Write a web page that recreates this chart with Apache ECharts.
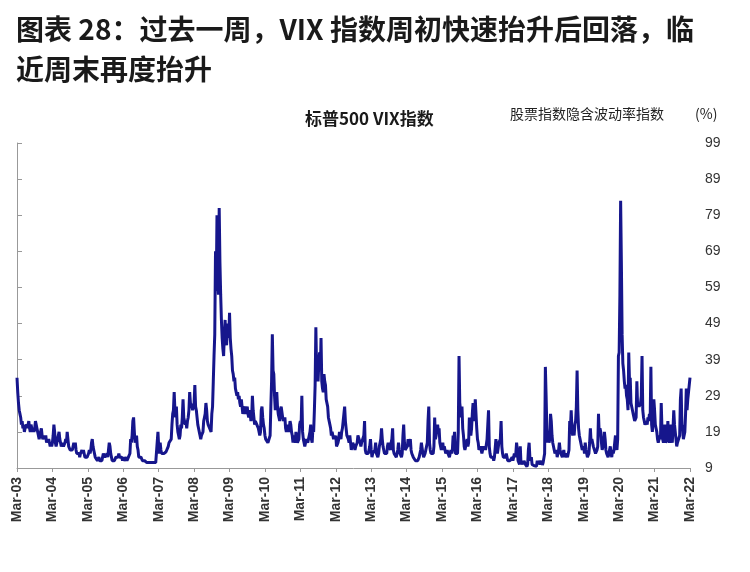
<!DOCTYPE html>
<html>
<head>
<meta charset="utf-8">
<script src="https://cdn.jsdelivr.net/npm/echarts@6/dist/echarts.min.js"></script>
<style>
html,body{margin:0;padding:0;background:#fff;}
#chart{width:750px;height:572px;}
</style>
</head>
<body>
<div id="chart"></div>
<script>
// Weekly-ish readings (4 per month), starting Mar 2003
const vix2003 = [34,30,27,25, 24,23,21,22, 20,21,19,20, 20,21,20,21, 22,20,19,21, 21,19,20,19, 20,22,21,20, 19,18,17,18, 19,20,18,17, 17,18,17,18];
const vix2004 = [16,17,16,17, 16,15,16,15, 16,18,21,19, 16,15,16,17, 18,19,17,16, 15,15,16,15, 15,16,17,16, 19,17,15,15, 14,14,14,14, 15,16,15,16, 14,13,13,13, 13,12,13,13];
const vix2005 = [14,13,14,13, 12,12,12,12, 12,13,14,13, 14,16,17,15, 14,13,12,12, 12,11,11,12, 11,11,10.5,11, 12,13,13,12, 12,12,13,12, 14,16,15,13, 12,11,11,11, 11,11,12,12];
const vix2006 = [12,12,13,12, 12,12,12,11, 12,11,11,11, 12,11,11,12, 12,13,17,16, 18,22,23,19, 16,17,18,15, 14,12,12,12, 12,12,11,11, 11,11,11,10.5, 10.5,10,10.5,10.5, 11,10,10.5,11];
const vix2007 = [11,10.5,11,11, 10.5,10.5,10,19, 15,13,16,14, 13,13,12.5,13, 13,13,13.5,13.5, 13,15,16,16, 16,17,21,24, 25,30,25,23, 26,21,19,18, 17,18,21,20, 23,28,23,22, 21,22,20,22];
const vix2008 = [23,25,30,27, 27,26,25,25, 27,32,26,25, 23,21,20,19, 18,17,18,18, 19,22,23,24, 27,25,22,21, 21,20,20,19, 24,26,33,40, 46,69,58,79, 62,57,81,66, 57,50,45,42];
const vix2009 = [40,46,50,44, 43,47,49,45, 52,45,42,40, 36,35,33,34, 31,30,29,30, 28,29,27,26, 28,26,24,25, 25,26,24,25, 26,24,23,25, 24,22,23,29, 25,23,21,22, 22,21,21,20];
const vix2010 = [20,18,19,25, 26,23,21,20, 18,17,17,17, 16,16,16,18, 26,33,46,36, 35,29,25,29, 30,26,24,23, 22,25,26,26, 23,22,22,23, 20,19,19,21, 19,20,22,21, 19,18,16,18];
const vix2011 = [17,16,19,19, 16,16,17,21, 22,21,29,19, 17,16,15,15, 17,17,16,17, 18,19,21,17, 16,20,19,25, 32,48,36,36, 33,38,41,36, 45,33,31,30, 35,33,32,28, 28,26,23,23];
const vix2012 = [21,20,18,19, 18,17,18,17, 18,15,15,16, 17,19,18,17, 19,20,22,24, 26,22,20,18, 18,17,16,18, 16,14,14,16, 16,15,14,15, 15,16,18,18, 18,16,15,16, 16,16,18,22];
const vix2013 = [14,13,13,13, 13,13,15,17, 14,12,13,13, 13,14,16,13, 13,12,13,15, 16,17,20,17, 15,14,13,13, 13,13,15,16, 15,15,14,16, 17,20,14,13, 13,13,12,13, 14,16,14,13];
const vix2014 = [13,12,13,18, 21,16,14,14, 14,15,17,15, 15,17,14,13, 13,12,12,12, 11,11,11,11, 10.5,12,12,14, 16,16,13,12, 12,13,14,15, 16,22,26,16, 14,13,13,13, 13,15,23,17];
const vix2015 = [18,20,21,19, 20,16,15,14, 15,16,14,15, 14,13,13,14, 13,13,12,13, 14,13,14,18, 17,19,13,13, 13,13,19,40, 27,25,23,26, 20,18,15,14, 15,16,17,15, 16,23,19,18];
const vix2016 = [20,24,27,23, 22,28,24,20, 17,16,14,14, 15,15,13,14, 15,14,15,14, 14,17,21,25, 15,13,12,12, 12,12,11,12, 12,17,15,13, 13,16,16,17, 22,15,13,12, 12,12,12,13];
const vix2017 = [12,11,11,11, 11,11,11,12, 11,12,13,12, 13,16,14,11, 10.5,10,15,10, 10,11,10,11, 11,10,9.5,9.4, 10,14,16,12, 11,12,10,9.6, 9.5,9.6,9.8,9.8, 9.5,11,10,11, 11,10,10,11];
const vix2018 = [9.8,10.5,11,13, 37,29,20,16, 18,16,17,24, 22,18,16,16, 14,13,13,14, 12,12,14,16, 14,13,13,12, 13,14,12,12, 13,13,12,12, 14,22,20,25, 20,18,20,18, 21,22,26,36];
const vix2019 = [25,20,18,17, 16,15,14,14, 15,13,16,14, 13,12,12,13, 16,20,16,17, 17,15,15,15, 13,13,14,15, 24,18,20,19, 16,14,15,16, 19,17,14,13, 13,12,12,12, 15,13,12,14];
const vix2020 = [13,14,16,18, 15,14,17,40, 41,57,83,66, 46,38,36,33, 31,32,29,28, 25,41,33,34, 27,27,25,24, 23,22,22,23, 33,26,27,26, 26,27,29,40, 25,23,22,21, 21,22,21,23];
const vix2021 = [22,24,22,37, 21,19,22,28, 25,21,20,19, 17,16,17,18, 17,27,20,17, 16,16,21,16, 16,17,22,17, 16,16,21,17, 16,20,25,21, 21,17,15,16, 16,16,18,28, 31,21,20,17];
const vix2022 = [17,19,24,31, 25,28,30,30, 34];

const xTickLabels = ['Mar-03','Mar-04','Mar-05','Mar-06','Mar-07','Mar-08','Mar-09','Mar-10','Mar-11','Mar-12',
  'Mar-13','Mar-14','Mar-15','Mar-16','Mar-17','Mar-18','Mar-19','Mar-20','Mar-21','Mar-22'];
const yTicks = [9,19,29,39,49,59,69,79,89,99];

const allVals = [].concat(vix2003,vix2004,vix2005,vix2006,vix2007,vix2008,vix2009,vix2010,vix2011,vix2012,
  vix2013,vix2014,vix2015,vix2016,vix2017,vix2018,vix2019,vix2020,vix2021,vix2022);
// x measured in months since Mar-03 (4 readings per month)
const seriesData = allVals.map((v, i) => [i / 4, v]);

const chart = echarts.init(document.getElementById('chart'), null, {renderer: 'canvas'});
chart.setOption({
  animation: false,
  backgroundColor: '#fff',
  title: [
    {
      text: '图表 28：过去一周，VIX 指数周初快速抬升后回落，临\n近周末再度抬升',
      left: 11, top: 4,
      textStyle: {fontFamily: 'Noto Sans CJK SC', fontSize: 28, fontWeight: 'bold', color: '#1a1a1a', lineHeight: 40}
    },
    {
      text: '标普500 VIX指数',
      left: 300, top: 105,
      textStyle: {fontFamily: 'Noto Sans CJK SC', fontSize: 17, fontWeight: 'bold', color: '#1a1a1a'}
    },
    {
      text: '股票指数隐含波动率指数',
      left: 505, top: 102,
      textStyle: {fontFamily: 'Noto Sans CJK SC', fontSize: 14, fontWeight: 'normal', color: '#222'}
    },
    {
      text: '(%)',
      left: 690, top: 102,
      textStyle: {fontFamily: 'Noto Sans CJK SC', fontSize: 14, fontWeight: 'normal', color: '#222'}
    }
  ],
  grid: {left: 17, right: 60, top: 143, bottom: 104, containLabel: false},
  xAxis: {
    type: 'value', min: 0, max: 228, interval: 12,
    axisLine: {show: true, lineStyle: {color: '#999', width: 1}},
    axisTick: {show: true, length: 4, lineStyle: {color: '#999'}},
    splitLine: {show: false},
    axisLabel: {
      rotate: 90, margin: 9, fontSize: 14, fontWeight: 'bold', color: '#333',
      fontFamily: 'Liberation Sans, Arial, sans-serif',
      formatter: v => xTickLabels[Math.round(v / 12)] || ''
    }
  },
  yAxis: {
    type: 'value', position: 'right', min: yTicks[0], max: yTicks[yTicks.length - 1], interval: 10,
    axisLine: {show: true, lineStyle: {color: '#999', width: 1}},
    axisTick: {show: true, length: 5, lineStyle: {color: '#999'}},
    splitLine: {show: false},
    axisLabel: {margin: 15, fontSize: 14, color: '#333', fontFamily: 'Liberation Sans, Arial, sans-serif'}
  },
  series: [{
    type: 'line',
    data: seriesData,
    showSymbol: false,
    symbol: 'none',
    lineStyle: {color: '#16168c', width: 3},
    itemStyle: {color: '#16168c'}
  }]
});
</script>
</body>
</html>
